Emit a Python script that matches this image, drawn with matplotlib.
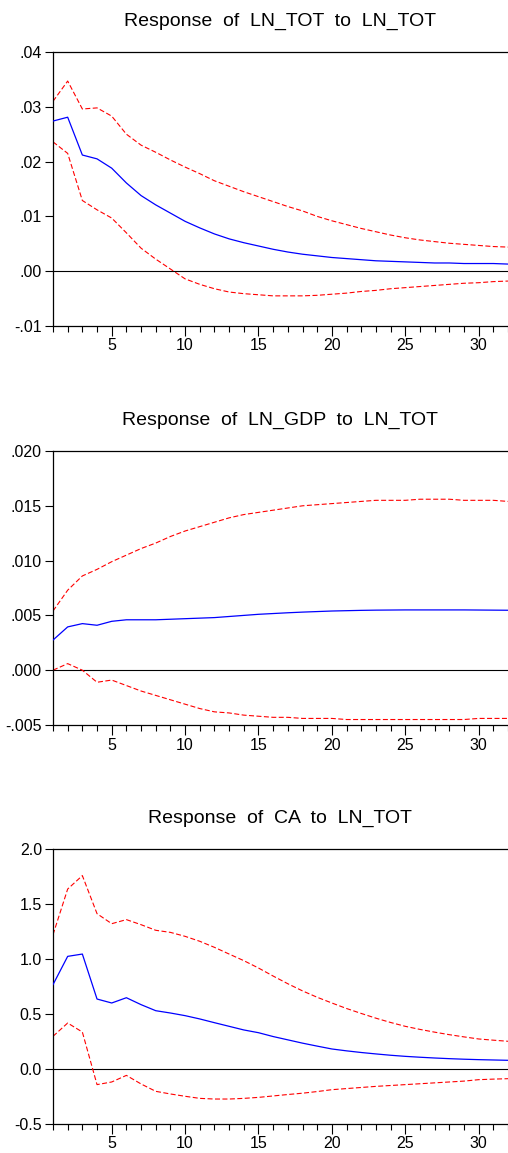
import matplotlib
matplotlib.use('Agg')
import matplotlib.pyplot as plt
import numpy as np

plt.rcParams['font.family'] = ['Liberation Sans', 'DejaVu Sans']

periods = list(range(1, 33))

# Response of LN_TOT to LN_TOT
tot_resp = [0.0274, 0.0281, 0.0212, 0.0205, 0.0188, 0.0161, 0.0138, 0.0121, 0.0106, 0.0091,
            0.0079, 0.0068, 0.0059, 0.0052, 0.0046, 0.0040, 0.0035, 0.0031, 0.0028, 0.0025,
            0.0023, 0.0021, 0.0019, 0.0018, 0.0017, 0.0016, 0.0015, 0.0015, 0.0014, 0.0014,
            0.0014, 0.0013]
tot_upper = [0.0310, 0.0347, 0.0296, 0.0298, 0.0283, 0.0250, 0.0230, 0.0217, 0.0203, 0.0190,
             0.0178, 0.0165, 0.0155, 0.0145, 0.0136, 0.0127, 0.0118, 0.0110, 0.0100, 0.0092,
             0.0085, 0.0078, 0.0072, 0.0066, 0.0061, 0.0057, 0.0054, 0.0051, 0.0049, 0.0047,
             0.0045, 0.0044]
tot_lower = [0.0236, 0.0215, 0.0129, 0.0112, 0.0097, 0.0070, 0.0042, 0.0022, 0.0004, -0.0014,
             -0.0024, -0.0032, -0.0038, -0.0041, -0.0043, -0.0045, -0.0045, -0.0045, -0.0044, -0.0042,
             -0.0040, -0.0037, -0.0035, -0.0032, -0.0030, -0.0028, -0.0026, -0.0024, -0.0022, -0.0021,
             -0.0019, -0.0018]

# Response of LN_GDP to LN_TOT
gdp_resp = [0.00275, 0.00395, 0.00425, 0.00410, 0.00446, 0.00460, 0.00460, 0.00460, 0.00465, 0.00470,
            0.00475, 0.00480, 0.00490, 0.00500, 0.00510, 0.00517, 0.00524, 0.00530, 0.00535, 0.00540,
            0.00543, 0.00546, 0.00548, 0.00549, 0.00550, 0.00550, 0.00550, 0.00550, 0.00550, 0.00549,
            0.00548, 0.00547]
gdp_upper = [0.0054, 0.0073, 0.0086, 0.0092, 0.0099, 0.0105, 0.0111, 0.0116, 0.0122, 0.0127,
             0.0131, 0.0135, 0.0139, 0.0142, 0.0144, 0.0146, 0.0148, 0.0150, 0.0151, 0.0152,
             0.0153, 0.0154, 0.0155, 0.0155, 0.0155, 0.0156, 0.0156, 0.0156, 0.0155, 0.0155,
             0.0155, 0.0154]
gdp_lower = [0.0000, 0.0006, -0.0000, -0.0011, -0.0009, -0.0014, -0.0019, -0.0023, -0.0027, -0.0031,
             -0.0035, -0.0038, -0.0039, -0.0041, -0.0042, -0.0043, -0.0043, -0.0044, -0.0044, -0.0044,
             -0.0045, -0.0045, -0.0045, -0.0045, -0.0045, -0.0045, -0.0045, -0.0045, -0.0045, -0.0044,
             -0.0044, -0.0044]

# Response of CA to LN_TOT
ca_resp = [0.767, 1.024, 1.045, 0.636, 0.600, 0.648, 0.585, 0.530, 0.509, 0.485,
           0.455, 0.421, 0.388, 0.355, 0.330, 0.295, 0.265, 0.235, 0.208, 0.182,
           0.165, 0.150, 0.137, 0.125, 0.115, 0.107, 0.100, 0.094, 0.089, 0.085,
           0.082, 0.079]
ca_upper = [1.221, 1.636, 1.758, 1.412, 1.321, 1.358, 1.312, 1.261, 1.242, 1.206,
            1.161, 1.106, 1.045, 0.985, 0.918, 0.845, 0.775, 0.710, 0.652, 0.600,
            0.550, 0.505, 0.462, 0.423, 0.388, 0.360, 0.335, 0.312, 0.292, 0.273,
            0.262, 0.252]
ca_lower = [0.297, 0.418, 0.336, -0.142, -0.118, -0.058, -0.136, -0.203, -0.227, -0.248,
            -0.267, -0.273, -0.273, -0.267, -0.258, -0.245, -0.232, -0.220, -0.205, -0.188,
            -0.178, -0.168, -0.158, -0.150, -0.142, -0.134, -0.126, -0.118, -0.110, -0.097,
            -0.092, -0.088]

titles = ['Response  of  LN_TOT  to  LN_TOT',
          'Response  of  LN_GDP  to  LN_TOT',
          'Response  of  CA  to  LN_TOT']
ytick_vals = [[-0.01, 0.0, 0.01, 0.02, 0.03, 0.04],
              [-0.005, 0.0, 0.005, 0.010, 0.015, 0.020],
              [-0.5, 0.0, 0.5, 1.0, 1.5, 2.0]]
ytick_labels = [['-.01', '.00', '.01', '.02', '.03', '.04'],
                ['-.005', '.000', '.005', '.010', '.015', '.020'],
                ['-0.5', '0.0', '0.5', '1.0', '1.5', '2.0']]
series = [(tot_resp, tot_upper, tot_lower),
          (gdp_resp, gdp_upper, gdp_lower),
          (ca_resp, ca_upper, ca_lower)]

W, H = 508, 1153
fig = plt.figure(figsize=(W / 100, H / 100), dpi=100)
tops = [52, 451, 849]
bottoms = [326, 725, 1124]
left = 53

for i in range(3):
    ax = fig.add_axes([left / W, 1 - bottoms[i] / H, (W - left) / W, (bottoms[i] - tops[i]) / H])
    resp, up, lo = series[i]
    ax.axhline(0, color='black', lw=0.8, zorder=1)
    ax.plot(periods, up, color='#ff0000', lw=0.8, dashes=(4.5, 2.2), zorder=2)
    ax.plot(periods, lo, color='#ff0000', lw=0.8, dashes=(4.5, 2.2), zorder=2)
    ax.plot(periods, resp, color='#0000ff', lw=0.9, zorder=3)
    ax.set_xlim(1, 1 + (W - left) / 14.8)
    ax.set_ylim(ytick_vals[i][0], ytick_vals[i][-1])
    ax.set_yticks(ytick_vals[i])
    ax.set_yticklabels(ytick_labels[i])
    ax.set_xticks([5, 10, 15, 20, 25, 30])
    ax.set_xticks(periods, minor=True)
    ax.tick_params(axis='both', which='major', labelsize=11.5, width=0.8, color='black')
    ax.tick_params(axis='x', which='major', length=7, pad=2)
    ax.tick_params(axis='x', which='minor', length=4, width=0.8)
    ax.tick_params(axis='y', which='major', length=6, pad=2)
    ax.spines['right'].set_visible(False)
    for s in ['left', 'top', 'bottom']:
        ax.spines[s].set_linewidth(0.9)
    ax.set_title(titles[i], fontsize=14, pad=19)

fig.savefig('out.png', dpi=100)
